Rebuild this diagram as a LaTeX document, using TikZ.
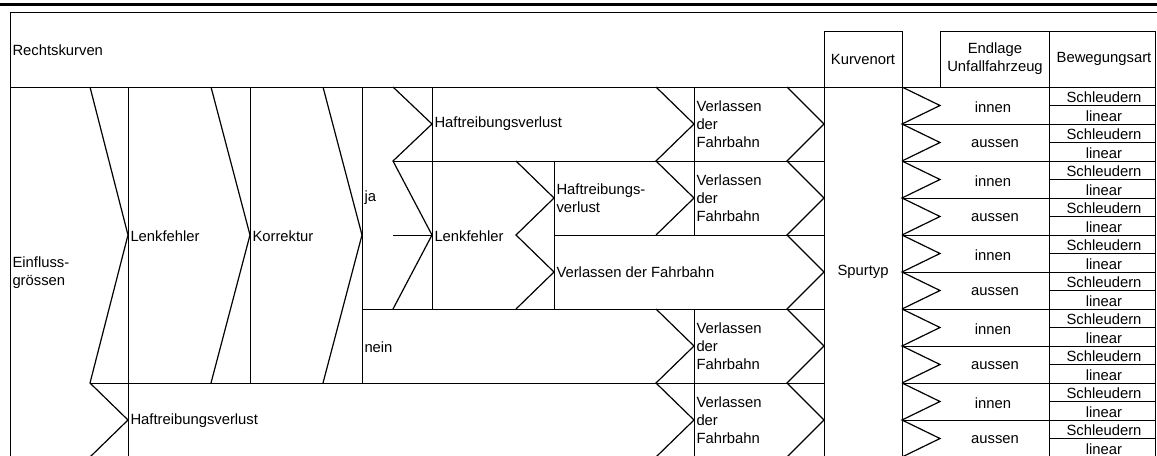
\documentclass[tikz,border=0pt]{standalone}
\usepackage{fontspec}
\setmainfont{Liberation Sans}
\begin{document}
\begin{tikzpicture}[x=0.75pt,y=-0.75pt,line width=0.75pt]
\tikzset{lab/.style={anchor=west,inner sep=0pt,align=left,font=\fontsize{11.1}{13.4}\selectfont},
  mid/.style={inner sep=0pt,align=center,font=\fontsize{11.1}{13.4}\selectfont},
  zig/.style={line width=0.9pt}}
\pgfmathsetmacro{\rowh}{37}
\pgfmathsetmacro{\ytop}{87}
\pgfmathsetmacro{\xend}{1155}
\useasboundingbox (0,0) rectangle (1157,455);
\clip (0,0) rectangle (1157,455);
% rules and header
\draw[line width=1.9pt] (0,4.3) -- (1157,4.3);
\draw (10,460) -- (10,12) -- (1157,12);
\draw (10,87) -- (\xend,87);
\draw (824,460) -- (824,31) -- (902,31) -- (902,460);
\draw (940,87) -- (940,31) -- (\xend,31) -- (\xend,460);
\draw (1049,31) -- (1049,460);
\node[lab] (rk) at (12,50) {Rechtskurven};
\node[mid] (kurvenort) at (863,59) {Kurvenort};
\node[mid] (endlage) at (995,59) {Endlage\\Unfallfahrzeug};
\node[mid] (beweg) at (1104,59) {Bewegungsart};
% left columns
\draw (128,87) -- (128,460);
\draw (250,87) -- (250,383);
\draw (362,87) -- (362,383);
\draw (90,383) -- (824,383);
\draw (362,309) -- (824,309);
\draw (393,161) -- (824,161);
\draw (393,235) -- (432,235);
\draw (554,235) -- (824,235);
\draw (432,87) -- (432,309);
\draw (554,161) -- (554,309);
\draw (694,87) -- (694,235);
\draw (694,309) -- (694,460);
\draw[zig] (90,87) -- (128,235) -- (90,383) -- (128,420) -- (90,457);
\draw[zig] (211,87) -- (250,235) -- (211,383);
\draw[zig] (323,87) -- (362,235) -- (323,383);
\draw[zig] (393,87) -- (432,124) -- (393,161) -- (432,235) -- (393,309);
\draw[zig] (516,161) -- (554,198) -- (516,235) -- (554,272) -- (516,309);
\draw[zig] (656,87) -- (694,124) -- (656,161) -- (694,198) -- (656,235);
\draw[zig] (656,309) -- (694,346) -- (656,383) -- (694,420) -- (656,457);
\draw[zig] (787,87) -- (824,124) -- (787,161) -- (824,198) -- (787,235) -- (824,272)
  -- (787,309) -- (824,346) -- (787,383) -- (824,420) -- (787,457);
\node[lab] (einfluss) at (12,273) {Einfluss-\\grössen};
\node[lab] (lenk) at (130,236) {Lenkfehler};
\node[lab] (korr) at (252,236) {Korrektur};
\node[lab] (ja) at (364,198) {ja};
\node[lab] (nein) at (364,347) {nein};
\node[lab] (haftA) at (434,124) {Haftreibungsverlust};
\node[lab] (lenkB) at (434,236) {Lenkfehler};
\node[lab] (haftB) at (556,198) {Haftreibungs-\\verlust};
\node[lab] (vdfB) at (556,272) {Verlassen der Fahrbahn};
\node[lab] (haftC) at (130,421) {Haftreibungsverlust};
\foreach \y/\n in {124/A,198/B,346/C,420/D}
  \node[lab] (vdf\n) at (696,\y) {Verlassen\\der\\Fahrbahn};
\node[mid] (spurtyp) at (863,272) {Spurtyp};
% right part: endlage and bewegungsart per branch
\foreach \k in {0,...,4}{
  \pgfmathsetmacro{\ya}{\ytop+2*\k*\rowh}
  \draw[zig] (902,\ya) -- ++(38,\rowh/2) -- ++(-38,\rowh/2) -- ++(38,\rowh/2) -- ++(-38,\rowh/2);
  \draw (902,\ya+\rowh) -- (\xend,\ya+\rowh);
  \draw (902,\ya+2*\rowh) -- (\xend,\ya+2*\rowh);
  \draw (1049,\ya+\rowh/2) -- (\xend,\ya+\rowh/2);
  \draw (1049,\ya+1.5*\rowh) -- (\xend,\ya+1.5*\rowh);
  \node[mid] (in\k) at (993,\ya+\rowh/2+1.5) {innen};
  \node[mid] (au\k) at (995,\ya+1.5*\rowh+1.5) {aussen};
  \foreach \j in {0,1}{
    \node[mid] (sch\k\j) at (1104,\ya+\j*\rowh+\rowh/4+1) {Schleudern};
    \node[mid] (lin\k\j) at (1104,\ya+\j*\rowh+3*\rowh/4+1) {linear};
  }
}
\end{tikzpicture}
\end{document}
